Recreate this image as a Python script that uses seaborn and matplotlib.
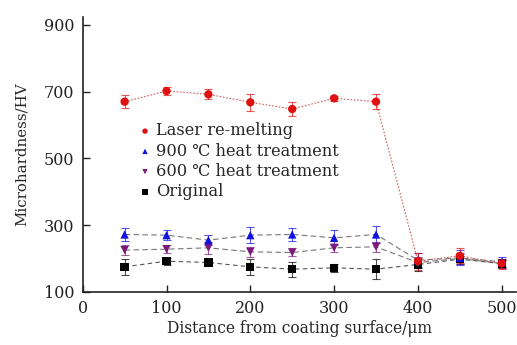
import numpy as np
import pandas as pd
import seaborn as sns
import matplotlib.pyplot as plt

# distances (um) and hardness values
distance = [50, 100, 150, 200, 250, 300, 350, 400, 450, 500]
laser = [670, 702, 692, 668, 648, 680, 670, 192, 208, 185]
laser_err = [20, 12, 15, 25, 22, 8, 22, 25, 22, 15]
heat900 = [272, 270, 255, 270, 272, 262, 272, 195, 202, 190]
heat900_err = [20, 15, 15, 25, 20, 22, 25, 20, 22, 15]
heat600 = [225, 228, 232, 220, 218, 232, 235, 188, 200, 185]
heat600_err = [15, 12, 18, 15, 12, 12, 15, 15, 15, 12]
original = [175, 192, 188, 175, 168, 172, 168, 182, 198, 185]
original_err = [25, 10, 10, 25, 22, 12, 30, 20, 15, 12]

sns.set_style("ticks")
plt.rcParams['font.family'] = ['DejaVu Serif']

fig = plt.figure(figsize=(5.17, 3.45), dpi=100)
ax = fig.add_axes([0.16, 0.154, 0.838, 0.797])

series = [
    ("Original", original, original_err, "black", "s", (4, 3), "#555555"),
    ("600 ℃ heat treatment", heat600, heat600_err, "#7b1a7b", "v", (5, 3), "#777777"),
    ("900 ℃ heat treatment", heat900, heat900_err, "#1010e0", "^", (5, 3), "#777777"),
    ("Laser re-melting", laser, laser_err, "#e01010", "o", (1.5, 1.5), "#d06060"),
]

handles = {}
for name, vals, err, col, mk, dash, lcol in series:
    df = pd.DataFrame({"x": distance, "y": vals})
    sns.lineplot(data=df, x="x", y="y", ax=ax, color=lcol, lw=0.8,
                 dashes=False, linestyle=(0, dash), zorder=2)
    ax.errorbar(distance, vals, yerr=err, fmt="none", ecolor=col, elinewidth=0.8,
                capsize=3, capthick=0.8, zorder=3, alpha=0.7)
    sc = ax.scatter(distance, vals, marker=mk, s=36, color=col, zorder=4,
                    edgecolors="none")
    handles[name] = sc

order = ["Laser re-melting", "900 ℃ heat treatment", "600 ℃ heat treatment", "Original"]
ax.legend([handles[n] for n in order], order, loc="upper left",
          bbox_to_anchor=(0.11, 0.64), frameon=False, fontsize=11.7,
          handletextpad=0.2, labelspacing=0.2, markerscale=0.65, borderaxespad=0,
          handlelength=1.0)

ax.set_xlim(0, 517)
ax.set_ylim(100, 924)
ax.set_xticks([0, 100, 200, 300, 400, 500])
ax.set_yticks([100, 300, 500, 700, 900])
ax.tick_params(direction="in", length=5, width=1, labelsize=11.5, colors="#222222",
               pad=6)
ax.set_xlabel("Distance from coating surface/μm", fontsize=11.2, labelpad=2)
ax.set_ylabel("Microhardness/HV", fontsize=10.8, labelpad=11)
sns.despine(ax=ax)
for s in ["left", "bottom"]:
    ax.spines[s].set_linewidth(1.2)
    ax.spines[s].set_color("#222222")

fig.savefig("out.png", dpi=100)
